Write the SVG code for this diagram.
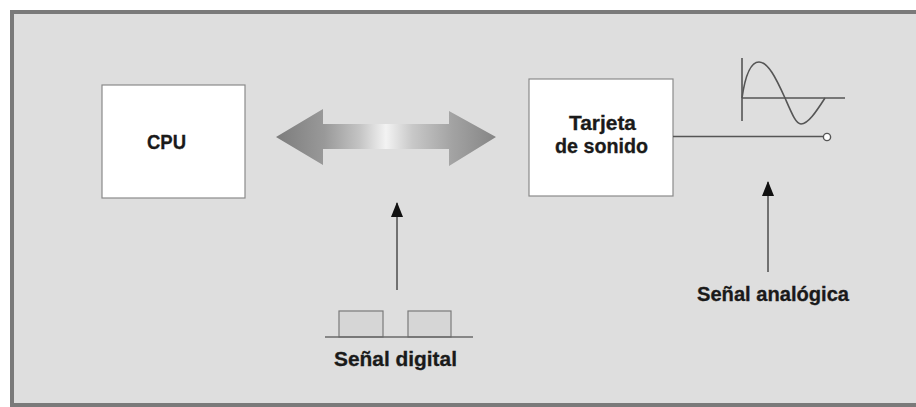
<svg xmlns="http://www.w3.org/2000/svg" width="916" height="407" viewBox="0 0 916 407">
<style>
.box{fill:#ffffff;stroke:#8a8a8a;stroke-width:1.2}
.lbl{font-family:"Liberation Sans Narrow","Liberation Sans",Arial,sans-serif;font-weight:bold;font-size:20px;fill:#1a1a1a;stroke:#1a1a1a;stroke-width:0.3}
.ln{stroke:#555555;stroke-width:1.6;fill:none}
.thin{stroke:#6a6a6a;stroke-width:1.3;fill:none}
</style>
<defs>
<linearGradient id="gArrow" x1="276" y1="0" x2="496" y2="0" gradientUnits="userSpaceOnUse">
<stop offset="0" stop-color="#7c7c7c"/>
<stop offset="0.22" stop-color="#999999"/>
<stop offset="0.38" stop-color="#c4c4c4"/>
<stop offset="0.5" stop-color="#f3f3f3"/>
<stop offset="0.62" stop-color="#c8c8c8"/>
<stop offset="0.8" stop-color="#a3a3a3"/>
<stop offset="1" stop-color="#858585"/>
</linearGradient>
<marker id="ah" viewBox="0 0 15 12" refX="14" refY="6" markerWidth="15" markerHeight="12" markerUnits="userSpaceOnUse" orient="auto">
<path d="M15,6 L0,0 L0,12 Z" fill="#111111"/>
</marker>
</defs>
<rect x="0" y="0" width="916" height="407" fill="#ffffff"/>
<rect id="frame" x="12" y="12" width="912" height="393" fill="#dedede" stroke="#7a7a7a" stroke-width="4"/>

<g id="cpu">
<rect class="box" x="102" y="85" width="143" height="113"/>
<text class="lbl" x="147" y="149" textLength="39" lengthAdjust="spacingAndGlyphs">CPU</text>
</g>

<g id="tarjeta">
<rect class="box" x="529" y="79" width="144" height="117"/>
<text class="lbl" x="569" y="130" textLength="67" lengthAdjust="spacingAndGlyphs">Tarjeta</text>
<text class="lbl" x="555" y="153" textLength="93" lengthAdjust="spacingAndGlyphs">de sonido</text>
</g>

<g id="bus">
<path d="M276,137 L323,109 L323,124 L449,124 L449,111 L496,137 L449,166 L449,149 L323,149 L323,165 Z" fill="url(#gArrow)"/>
</g>

<g id="onda-analogica">
<line class="ln" x1="742" y1="58" x2="742" y2="121"/>
<line class="ln" x1="742" y1="98" x2="845" y2="98"/>
<path class="ln" d="M742,98 C746,70 752,62 759,62 C768,62 776,78 785,98 C792,114 796,124 801,124 C808,124 816,112 825,98"/>
</g>

<g id="senal-digital">
<rect x="339" y="311" width="44" height="26" fill="#d6d6d6" stroke="#7a7a7a" stroke-width="1.2"/>
<rect x="408" y="311" width="43" height="26" fill="#d6d6d6" stroke="#7a7a7a" stroke-width="1.2"/>
<line class="thin" x1="325" y1="337" x2="473" y2="337"/>
<text class="lbl" x="334" y="366" textLength="123" lengthAdjust="spacingAndGlyphs">Señal digital</text>
</g>

<g id="senal-analogica">
<text class="lbl" x="697" y="301" textLength="152" lengthAdjust="spacingAndGlyphs">Señal analógica</text>
</g>

<g id="connectors">
<line class="ln" x1="673" y1="136.5" x2="823" y2="136.5"/>
<circle cx="827" cy="137" r="3.6" fill="#ffffff" stroke="#555555" stroke-width="1.4"/>
<line class="ln" x1="397" y1="290" x2="397" y2="203" marker-end="url(#ah)"/>
<line class="ln" x1="768" y1="272" x2="768" y2="182" marker-end="url(#ah)"/>
</g>
</svg>
